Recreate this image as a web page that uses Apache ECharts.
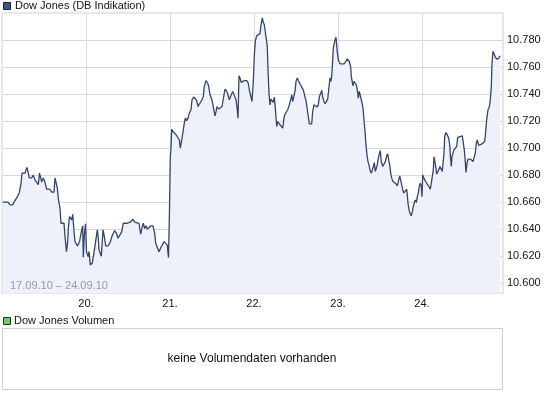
<!DOCTYPE html>
<html>
<head>
<meta charset="utf-8">
<script src="https://cdn.jsdelivr.net/npm/echarts@6/dist/echarts.min.js"></script>
<style>
html,body{margin:0;padding:0;background:#fff;}
#chart{width:545px;height:395px;}
</style>
</head>
<body>
<div id="chart"></div>
<script>
// time unit: 10-minute trading slots since 17.09.10 open (84 slots per trading day)
const day17 = [[0.7,10.660],[6,10.660],[8,10.658],[10.7,10.658],[12,10.660],[15,10.6635],[17.3,10.667],[19,10.674],[20,10.6815],[23,10.6815],[25,10.6857],[27.3,10.678],[29.7,10.678],[31.3,10.680],[33,10.6765],[34.7,10.6765],[36.3,10.673],[37.5,10.6815],[39.7,10.675],[41.3,10.678],[43,10.6745],[44.7,10.6696],[48,10.6696],[49.7,10.6674],[52,10.6674],[53,10.678],[55.3,10.6706],[56.5,10.6617],[58,10.6556],[59,10.6444],[62,10.6444],[63,10.6345],[64.5,10.6234],[65.7,10.6308],[66.3,10.6407],[67.5,10.6493],[69,10.6493],[69.7,10.647],[70.7,10.651],[72,10.6385],[73,10.6308],[75.5,10.6276],[77.5,10.6308],[79.7,10.6395],[80.7,10.6425],[81.3,10.6193],[82.3,10.6355],[83.5,10.644]];
const day20 = [[84.5,10.6234],[86,10.6197],[87,10.6234],[88.3,10.6135],[89.3,10.6135],[90.3,10.615],[92,10.6227],[93.7,10.6227],[95.3,10.6395],[96.3,10.634],[97,10.6247],[98,10.6247],[99.3,10.620],[101,10.6395],[102,10.636],[103.7,10.6276],[106,10.6276],[108,10.630],[110.3,10.6355],[112.7,10.639],[114.7,10.6365],[116,10.6333],[118,10.6333],[119.7,10.638],[121.3,10.6444],[123,10.6452],[125.3,10.6444],[127,10.6444],[128.7,10.6455],[131,10.6474],[132.7,10.6452],[134,10.6444],[137,10.6444],[138.7,10.6363],[140,10.641],[141.3,10.6444],[142.7,10.6405],[144,10.6425],[145.3,10.640],[147.3,10.639],[148.7,10.6424],[151,10.6424],[152.7,10.637],[153.7,10.6296],[155.3,10.629],[157,10.6234],[159.3,10.627],[162,10.6308],[163.7,10.632],[165.3,10.6282],[166.5,10.619],[167.5,10.6543]];
const day21 = [[168.3,10.6938],[169,10.700],[169.7,10.714],[171,10.7123],[172.3,10.7123],[174,10.710],[176,10.710],[177.3,10.7062],[178.3,10.700],[179.7,10.706],[180.7,10.7106],[182.3,10.7185],[183.3,10.7222],[184.7,10.7203],[186,10.7222],[187.3,10.7259],[189,10.7284],[190,10.7358],[191.7,10.7378],[193,10.7378],[194.7,10.7353],[196,10.7308],[197,10.7308],[198,10.732],[200,10.7358],[201.3,10.7383],[202.3,10.7456],[204,10.750],[205.7,10.748],[206.7,10.7456],[208,10.7395],[209,10.7378],[210,10.7353],[211.3,10.7308],[213,10.7239],[214,10.727],[215,10.7308],[216.7,10.7289],[218.3,10.7284],[220,10.7308],[221.7,10.7313],[223,10.7437],[224.7,10.742],[226,10.7395],[227.3,10.7358],[229,10.7358],[230.7,10.742],[232.3,10.742],[234,10.7358],[235,10.7304],[236,10.7222],[237,10.7536],[238,10.7519],[239.3,10.7486],[240.7,10.750],[242.3,10.750],[244.7,10.750],[246.3,10.748],[247.3,10.7432],[249,10.7378],[250,10.7345],[251.3,10.7494],[252.3,10.7679],[253.3,10.779],[254.7,10.7832]];
const day22 = [[256.3,10.784],[258,10.7847],[259,10.7913],[260.3,10.7963],[261.3,10.793],[262.3,10.7913],[263,10.7876],[264,10.7822],[265.3,10.7753],[266,10.758],[267,10.7407],[268,10.732],[269,10.7363],[270,10.7353],[271.3,10.7338],[272.3,10.7378],[273.3,10.7296],[274,10.723],[274.7,10.716],[275.7,10.7197],[277,10.7185],[278,10.7173],[279.7,10.7173],[280.7,10.7148],[282,10.7222],[282.7,10.7247],[283.7,10.726],[284.7,10.7239],[285.7,10.7284],[287.3,10.732],[288.7,10.7358],[289.7,10.7395],[290.7,10.7345],[292,10.7358],[293,10.742],[294,10.7494],[295.3,10.7519],[296.3,10.750],[298,10.7476],[299.7,10.7452],[301.3,10.7432],[303,10.7378],[304,10.7353],[305.3,10.7284],[306.3,10.7234],[307.3,10.718],[309.7,10.718],[310.7,10.7271],[312,10.732],[313.7,10.7316],[315.3,10.7304],[316.3,10.732],[317.3,10.7378],[318.7,10.7407],[319.7,10.7427],[320.7,10.7378],[322,10.7345],[323,10.7328],[324.7,10.732],[325.7,10.7363],[326.7,10.7432],[328,10.7519],[329,10.7494],[329.7,10.753],[330.7,10.7654],[331.3,10.7741],[333,10.7802],[334,10.782],[335.3,10.7708],[336.3,10.7654],[338,10.7624]];
const day23 = [[342,10.7624],[343.7,10.7641],[345.3,10.766],[346.7,10.766],[347.3,10.7641],[348.7,10.760],[349.3,10.753],[351,10.7461],[352,10.7494],[353,10.7506],[354.3,10.7469],[355.3,10.7432],[356.3,10.737],[357.3,10.742],[358.7,10.7407],[359.7,10.7345],[361,10.7296],[362,10.721],[363,10.7123],[364,10.7024],[365,10.695],[366,10.690],[367,10.6876],[368,10.6839],[369.3,10.6815],[370.3,10.6827],[371.3,10.6864],[372.3,10.6893],[373.3,10.6827],[374.3,10.6815],[375.3,10.6876],[376.3,10.6926],[377.3,10.6958],[378.3,10.6982],[379.3,10.690],[380.7,10.6864],[382,10.6876],[383.3,10.690],[384.7,10.6943],[385.7,10.6958],[386.7,10.6913],[387.7,10.6876],[388.7,10.6815],[389.7,10.6778],[391,10.6753],[392.3,10.6741],[394,10.6736],[395.3,10.672],[396.7,10.6765],[397.7,10.6795],[398.7,10.6765],[399.7,10.6728],[400.7,10.6696],[401.7,10.6667],[402.7,10.6679],[403.7,10.6667],[404.7,10.6696],[405.3,10.6654],[406,10.6593],[407,10.6543],[408,10.6519],[409.3,10.6499],[410.3,10.653],[411.3,10.6567],[412.3,10.6597],[413.3,10.6617],[414.3,10.6597],[415.3,10.6641],[416.3,10.6667],[417.3,10.672],[418.3,10.6741],[419.3,10.6716],[420,10.6641],[420.7,10.6802],[421.7,10.6815],[422.7,10.6765]];
const day24 = [[423.3,10.6753],[424.7,10.6741],[426,10.6753],[427,10.6716],[428.3,10.6696],[429.3,10.6741],[430.3,10.679],[431.3,10.6839],[432,10.6938],[432.7,10.6926],[433.7,10.6864],[434.7,10.681],[436,10.6827],[437,10.6827],[438,10.6864],[439.3,10.6852],[440.3,10.6827],[441.3,10.6815],[442,10.6963],[442.7,10.7086],[444,10.7116],[445.3,10.7098],[446.7,10.7074],[447.7,10.7024],[448.3,10.695],[449.3,10.6864],[450,10.6938],[451,10.6963],[452,10.6987],[453.3,10.700],[454.7,10.7012],[455.7,10.708],[458,10.7086],[460.3,10.7091],[461.3,10.7037],[462.3,10.6987],[463.3,10.690],[464,10.682],[465,10.6889],[466,10.6919],[468.7,10.6919],[470,10.6919],[471,10.690],[472,10.6913],[473.3,10.6963],[474.3,10.7037],[475.3,10.7061],[476.7,10.702],[478,10.7024],[480,10.7032],[481.7,10.7037],[482.7,10.7049],[483.7,10.7123],[484.7,10.7215],[486,10.7284],[487.3,10.7304],[488.3,10.7358],[489.3,10.7456],[490,10.763],[491,10.7716],[492,10.7699],[493.3,10.7674],[494.7,10.7659],[496,10.7647],[497,10.7667],[498,10.7684]];

const dayTicks = [84, 168, 252, 336, 420];
const dayLabels = ['20.', '21.', '22.', '23.', '24.'];
const yTicks = [10.60, 10.62, 10.64, 10.66, 10.68, 10.70, 10.72, 10.74, 10.76, 10.78];
const seriesName = 'Dow Jones (DB Indikation)';
const volumeName = 'Dow Jones Volumen';
const rangeText = '17.09.10 \u2013 24.09.10';
const noVolumeText = 'keine Volumendaten vorhanden';

const data = [].concat(day17, day20, day21, day22, day23, day24);
const FONT = '"Liberation Sans", Arial, sans-serif';
const gridColor = '#d8d8d8';

const chart = echarts.init(document.getElementById('chart'), null, {renderer: 'canvas'});
chart.setOption({
  animation: false,
  backgroundColor: '#fff',
  textStyle: {fontFamily: FONT},
  grid: {left: 2, top: 13, width: 501, height: 280, show: true, borderColor: '#cfcfcf', borderWidth: 1, backgroundColor: 'transparent'},
  xAxis: {
    type: 'value', min: 0, max: 501,
    axisLine: {show: false}, axisTick: {show: false, customValues: dayTicks},
    splitLine: {show: true, lineStyle: {color: gridColor, width: 1}},
    axisLabel: {
      customValues: dayTicks, color: '#111', fontSize: 11, fontFamily: FONT, margin: 5,
      formatter: function (v) { const i = dayTicks.indexOf(Math.round(v)); return i >= 0 ? dayLabels[i] : ''; }
    }
  },
  yAxis: {
    type: 'value', position: 'right', min: 10.5928, max: 10.800, scale: true,
    axisLine: {show: false}, axisTick: {show: false, customValues: yTicks},
    splitLine: {show: true, lineStyle: {color: gridColor, width: 1}},
    axisLabel: {
      customValues: yTicks, color: '#111', fontSize: 11, fontFamily: FONT, margin: 4, align: 'left',
      formatter: function (v) { return v.toFixed(3); }
    }
  },
  series: [{
    name: seriesName, type: 'line', data: data, symbol: 'none',
    lineStyle: {color: '#32456f', width: 1.3},
    areaStyle: {color: '#eef1fa', opacity: 1},
    z: 3
  }],
  graphic: [
    {type: 'rect', shape: {x: 3.5, y: 2.5, width: 7, height: 7}, style: {fill: '#3f5385', stroke: '#1c2538', lineWidth: 1}},
    {type: 'text', x: 15, y: 6, style: {text: seriesName, fill: '#111', font: '11px ' + FONT, textVerticalAlign: 'middle'}},
    {type: 'text', x: 10, y: 286, z: 10, style: {text: rangeText, fill: '#9a9a9a', font: '11px ' + FONT, textVerticalAlign: 'middle'}},
    {type: 'rect', shape: {x: 3.5, y: 317.5, width: 7, height: 7}, style: {fill: '#6ccc6c', stroke: '#1c3a1c', lineWidth: 1}},
    {type: 'text', x: 14, y: 321, style: {text: volumeName, fill: '#111', font: '11px ' + FONT, textVerticalAlign: 'middle'}},
    {type: 'rect', shape: {x: 2.5, y: 328.5, width: 500, height: 61}, style: {fill: 'none', stroke: '#cfcfcf', lineWidth: 1}},
    {type: 'text', x: 252, y: 359, style: {text: noVolumeText, fill: '#111', font: '12px ' + FONT, textAlign: 'center', textVerticalAlign: 'middle'}}
  ]
});
</script>
</body>
</html>
